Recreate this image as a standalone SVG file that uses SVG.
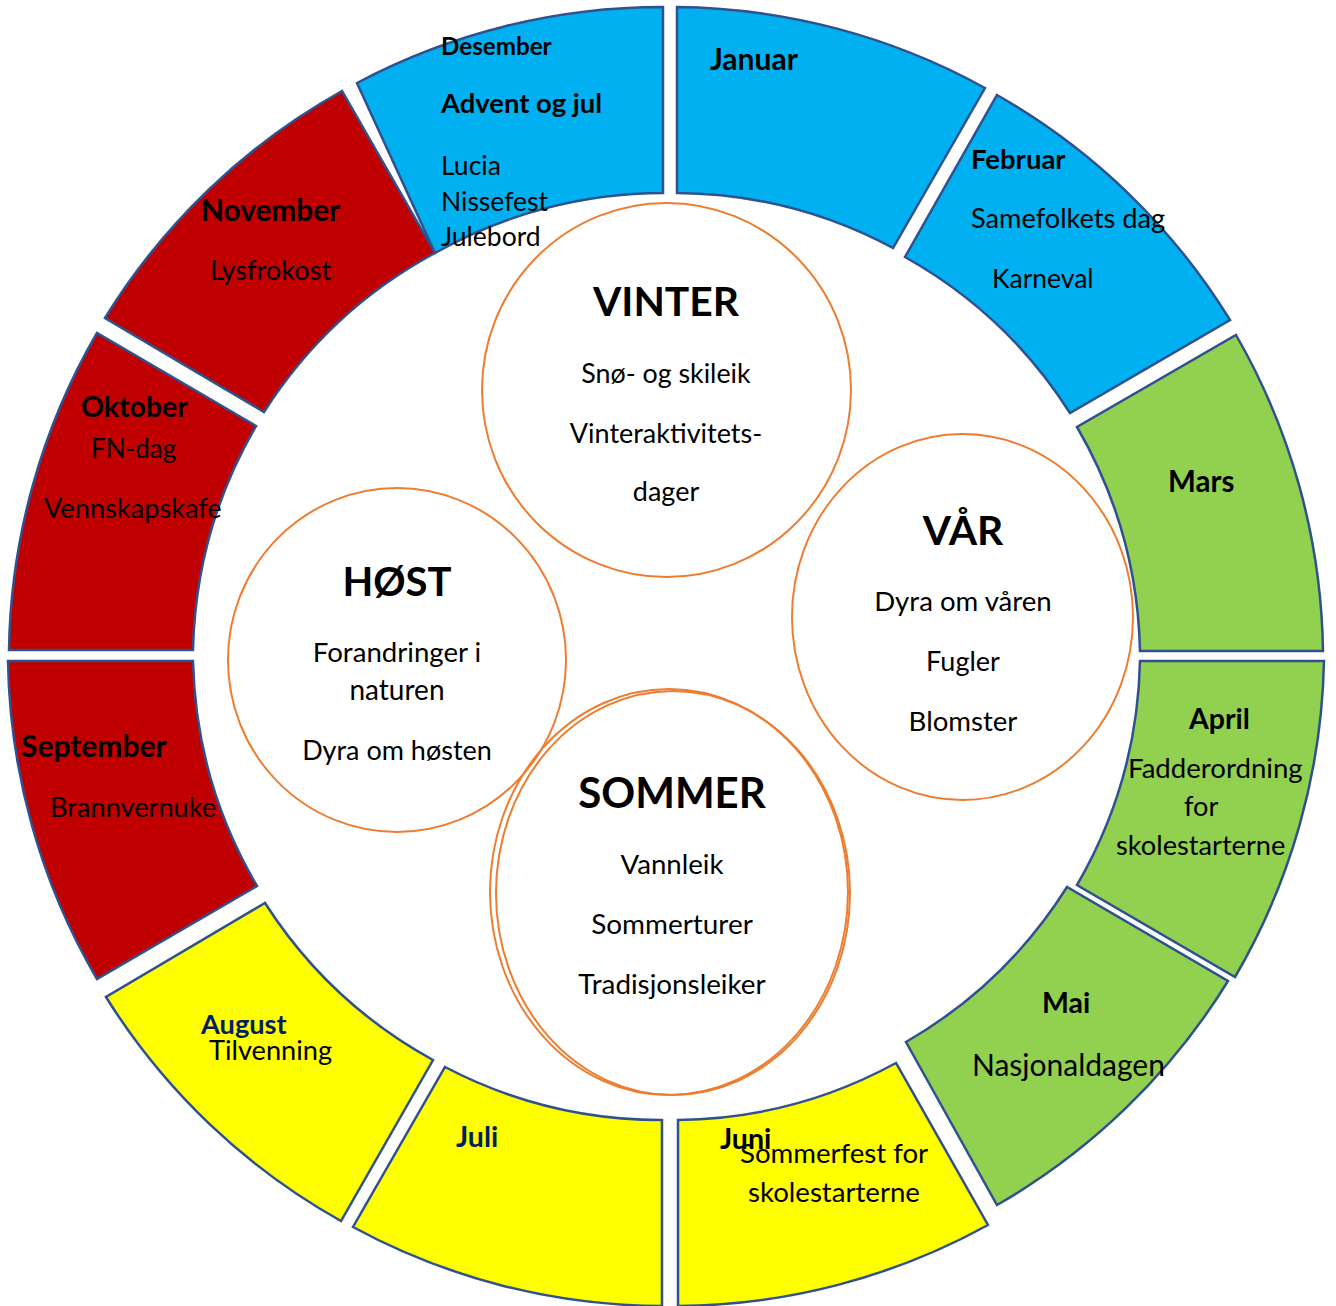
<svg xmlns="http://www.w3.org/2000/svg" width="1336" height="1306" viewBox="0 0 1336 1306">
<style>
.seg{stroke:#2F528F;stroke-width:2.5;stroke-linejoin:miter}
.blue{fill:#00B0F0}.green{fill:#92D050}.red{fill:#C00000}.yellow{fill:#FFFF00}
.ring{fill:none;stroke:#ED7D31;stroke-width:2}
text{font-family:Lato,"Liberation Sans",sans-serif;fill:#000}
.m{font-weight:bold;font-size:28.5px}
.a{font-size:27.2px}
.nv{fill:#002060}
.st{font-weight:bold;font-size:40.8px;text-anchor:middle}
.sc{font-size:27.6px;text-anchor:middle}
</style>
<rect width="1336" height="1306" fill="#fff"/>
<g id="januar">
<path class="seg blue" d="M677,7 A652,652 0 0 1 985,88 L893,248 A466,466 0 0 0 677,193 Z"/>
<text class="m" x="710" y="70" style="font-size:30px">Januar</text>
</g>
<g id="februar">
<path class="seg blue" d="M997,95 A652,652 0 0 1 1230,320 L1070,413 A466,466 0 0 0 905,257 Z"/>
<text class="m" x="971" y="169" style="font-size:27.5px">Februar</text>
<text class="a" x="971" y="228">Samefolkets dag</text>
<text class="a" x="992" y="288" style="font-size:26.5px">Karneval</text>
</g>
<g id="mars">
<path class="seg green" d="M1236,335 A652,652 0 0 1 1323,651 L1140,651 A466,466 0 0 0 1077,427 Z"/>
<text class="m" x="1168" y="492" style="font-size:29.5px">Mars</text>
</g>
<g id="april">
<path class="seg green" d="M1324,661 A652,652 0 0 1 1235,977 L1077,885 A466,466 0 0 0 1140,661 Z"/>
<text class="m" x="1189" y="729">April</text>
<text class="a" x="1128" y="778" style="font-size:27.6px">Fadderordning</text>
<text class="a" x="1184" y="816">for</text>
<text class="a" x="1116" y="855">skolestarterne</text>
</g>
<g id="mai">
<path class="seg green" d="M1228,981 A652,652 0 0 1 997,1205 L906,1042 A466,466 0 0 0 1067,887 Z"/>
<text class="m" x="1042" y="1013">Mai</text>
<text class="a" x="972" y="1076" style="font-size:30px">Nasjonaldagen</text>
</g>
<g id="juni">
<path class="seg yellow" d="M988,1225 A652,652 0 0 1 678,1306 L678,1120 A466,466 0 0 0 896,1063 Z"/>
<text class="m" x="720" y="1149">Juni</text>
<text class="a" x="740" y="1163" style="font-size:27.6px">Sommerfest for</text>
<text class="a" x="748" y="1202" style="font-size:27.6px">skolestarterne</text>
</g>
<g id="juli">
<path class="seg yellow" d="M662,1306 A652,652 0 0 1 353,1227 L445,1067 A466,466 0 0 0 662,1120 Z"/>
<text class="m nv" x="456" y="1147">Juli</text>
</g>
<g id="august">
<path class="seg yellow" d="M341,1221 A652,652 0 0 1 106,997 L265,903 A466,466 0 0 0 433,1060 Z"/>
<text class="m nv" x="201" y="1034" style="font-size:27.2px">August</text>
<text class="a" x="209" y="1060">Tilvenning</text>
</g>
<g id="september">
<path class="seg red" d="M97,979 A652,652 0 0 1 8,661 L193,661 A466,466 0 0 0 257,886 Z"/>
<text class="m" x="21" y="757" style="font-size:30px">September</text>
<text class="a" x="50" y="817">Brannvernuke</text>
</g>
<g id="oktober">
<path class="seg red" d="M9,650 A652,652 0 0 1 97,333 L256,426 A466,466 0 0 0 193,650 Z"/>
<text class="m" x="81" y="417">Oktober</text>
<text class="a" x="91" y="458" style="font-size:26px">FN-dag</text>
<text class="a" x="44" y="518">Vennskapskafe</text>
</g>
<g id="november">
<path class="seg red" d="M105,318 A652,652 0 0 1 342,91 L435,253 A466,466 0 0 0 264,412 Z"/>
<text class="m" x="201" y="221" style="font-size:29.8px">November</text>
<text class="a" x="210" y="280">Lysfrokost</text>
</g>
<g id="desember">
<path class="seg blue" d="M357,83 A652,652 0 0 1 663,7 L663,193 A466,466 0 0 0 435,253 Z"/>
<text class="m" x="441" y="55" style="font-size:24.2px">Desember</text>
<text class="m" x="441" y="113" style="font-size:27.4px">Advent og jul</text>
<text class="a" x="441" y="175" style="font-size:26.5px">Lucia</text>
<text class="a" x="441" y="211" style="font-size:26.5px">Nissefest</text>
<text class="a" x="441" y="246" style="font-size:26.5px">Julebord</text>
</g>
<g id="vinter">
<ellipse class="ring" cx="666.5" cy="390" rx="184.5" ry="187"/>
<text class="st" x="666" y="316">VINTER</text>
<text class="sc" x="666" y="383" style="font-size:26.8px">Snø- og skileik</text>
<text class="sc" x="666" y="443" style="font-size:27px">Vinteraktivitets-</text>
<text class="sc" x="666" y="501" style="font-size:27px">dager</text>
</g>
<g id="var">
<ellipse class="ring" cx="962.5" cy="617" rx="170.5" ry="183"/>
<text class="st" x="963" y="545">VÅR</text>
<text class="sc" x="963" y="611">Dyra om våren</text>
<text class="sc" x="963" y="671" style="font-size:27px">Fugler</text>
<text class="sc" x="963" y="731">Blomster</text>
</g>
<g id="host">
<ellipse class="ring" cx="397" cy="660" rx="169" ry="172"/>
<text class="st" x="397" y="596" style="font-size:40px">HØST</text>
<text class="sc" x="397" y="662">Forandringer i</text>
<text class="sc" x="397" y="700" style="font-size:28px">naturen</text>
<text class="sc" x="397" y="760" style="font-size:27px">Dyra om høsten</text>
</g>
<g id="sommer">
<ellipse class="ring" cx="669" cy="892" rx="179" ry="203"/>
<ellipse class="ring" cx="673" cy="893" rx="177" ry="202"/>
<text class="st" x="672" y="808" style="font-size:42px">SOMMER</text>
<text class="sc" x="672" y="874">Vannleik</text>
<text class="sc" x="672" y="934" style="font-size:27.9px">Sommerturer</text>
<text class="sc" x="672" y="994" style="font-size:27.8px">Tradisjonsleiker</text>
</g>
<g id="connectors"></g>
</svg>
